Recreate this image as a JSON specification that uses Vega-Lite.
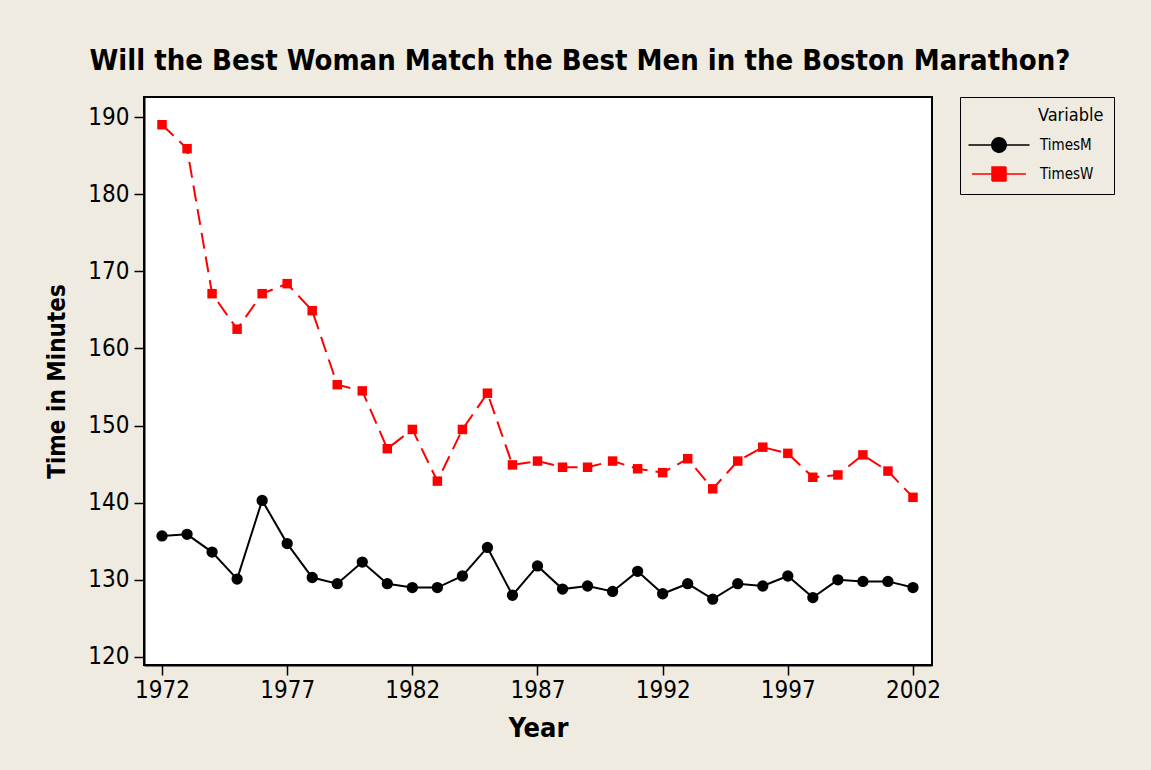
{
  "$schema": "https://vega.github.io/schema/vega-lite/v6.json",
  "width": 788,
  "height": 568,
  "autosize": {"type": "none"},
  "padding": {"left": 144, "top": 97, "right": 219, "bottom": 105},
  "background": "#EFEBE1",
  "title": {
    "text": "Will the Best Woman Match the Best Men in the Boston Marathon?",
    "font": "DejaVu Sans Condensed, DejaVu Sans",
    "fontSize": 29,
    "fontWeight": "bold",
    "color": "black",
    "anchor": "middle",
    "dx": 42,
    "offset": 21
  },
  "config": {
    "view": {"fill": "white", "stroke": "black", "strokeWidth": 2},
    "axis": {
      "labelFont": "DejaVu Sans Condensed, DejaVu Sans",
      "labelFontSize": 24,
      "labelColor": "black",
      "titleFont": "DejaVu Sans Condensed, DejaVu Sans",
      "titleColor": "black",
      "titleFontWeight": "bold",
      "tickColor": "black",
      "tickWidth": 1.5,
      "tickSize": 10,
      "domainColor": "black",
      "domainWidth": 2,
      "grid": false
    }
  },
  "data": {
    "values": [
      {"Year": 1972, "Variable": "TimesM", "Time": 135.7},
      {"Year": 1973, "Variable": "TimesM", "Time": 135.9},
      {"Year": 1974, "Variable": "TimesM", "Time": 133.6},
      {"Year": 1975, "Variable": "TimesM", "Time": 130.1},
      {"Year": 1976, "Variable": "TimesM", "Time": 140.3},
      {"Year": 1977, "Variable": "TimesM", "Time": 134.7},
      {"Year": 1978, "Variable": "TimesM", "Time": 130.3},
      {"Year": 1979, "Variable": "TimesM", "Time": 129.5},
      {"Year": 1980, "Variable": "TimesM", "Time": 132.3},
      {"Year": 1981, "Variable": "TimesM", "Time": 129.5},
      {"Year": 1982, "Variable": "TimesM", "Time": 129.0},
      {"Year": 1983, "Variable": "TimesM", "Time": 129.0},
      {"Year": 1984, "Variable": "TimesM", "Time": 130.5},
      {"Year": 1985, "Variable": "TimesM", "Time": 134.2},
      {"Year": 1986, "Variable": "TimesM", "Time": 128.0},
      {"Year": 1987, "Variable": "TimesM", "Time": 131.8},
      {"Year": 1988, "Variable": "TimesM", "Time": 128.8},
      {"Year": 1989, "Variable": "TimesM", "Time": 129.2},
      {"Year": 1990, "Variable": "TimesM", "Time": 128.5},
      {"Year": 1991, "Variable": "TimesM", "Time": 131.1},
      {"Year": 1992, "Variable": "TimesM", "Time": 128.2},
      {"Year": 1993, "Variable": "TimesM", "Time": 129.5},
      {"Year": 1994, "Variable": "TimesM", "Time": 127.5},
      {"Year": 1995, "Variable": "TimesM", "Time": 129.5},
      {"Year": 1996, "Variable": "TimesM", "Time": 129.2},
      {"Year": 1997, "Variable": "TimesM", "Time": 130.5},
      {"Year": 1998, "Variable": "TimesM", "Time": 127.7},
      {"Year": 1999, "Variable": "TimesM", "Time": 130.0},
      {"Year": 2000, "Variable": "TimesM", "Time": 129.8},
      {"Year": 2001, "Variable": "TimesM", "Time": 129.8},
      {"Year": 2002, "Variable": "TimesM", "Time": 129.0},
      {"Year": 1972, "Variable": "TimesW", "Time": 189.0},
      {"Year": 1973, "Variable": "TimesW", "Time": 185.9},
      {"Year": 1974, "Variable": "TimesW", "Time": 167.1},
      {"Year": 1975, "Variable": "TimesW", "Time": 162.5},
      {"Year": 1976, "Variable": "TimesW", "Time": 167.1},
      {"Year": 1977, "Variable": "TimesW", "Time": 168.4},
      {"Year": 1978, "Variable": "TimesW", "Time": 164.9},
      {"Year": 1979, "Variable": "TimesW", "Time": 155.3},
      {"Year": 1980, "Variable": "TimesW", "Time": 154.5},
      {"Year": 1981, "Variable": "TimesW", "Time": 147.0},
      {"Year": 1982, "Variable": "TimesW", "Time": 149.5},
      {"Year": 1983, "Variable": "TimesW", "Time": 142.8},
      {"Year": 1984, "Variable": "TimesW", "Time": 149.5},
      {"Year": 1985, "Variable": "TimesW", "Time": 154.2},
      {"Year": 1986, "Variable": "TimesW", "Time": 144.9},
      {"Year": 1987, "Variable": "TimesW", "Time": 145.4},
      {"Year": 1988, "Variable": "TimesW", "Time": 144.6},
      {"Year": 1989, "Variable": "TimesW", "Time": 144.6},
      {"Year": 1990, "Variable": "TimesW", "Time": 145.4},
      {"Year": 1991, "Variable": "TimesW", "Time": 144.4},
      {"Year": 1992, "Variable": "TimesW", "Time": 143.9},
      {"Year": 1993, "Variable": "TimesW", "Time": 145.7},
      {"Year": 1994, "Variable": "TimesW", "Time": 141.8},
      {"Year": 1995, "Variable": "TimesW", "Time": 145.4},
      {"Year": 1996, "Variable": "TimesW", "Time": 147.2},
      {"Year": 1997, "Variable": "TimesW", "Time": 146.4},
      {"Year": 1998, "Variable": "TimesW", "Time": 143.3},
      {"Year": 1999, "Variable": "TimesW", "Time": 143.6},
      {"Year": 2000, "Variable": "TimesW", "Time": 146.2},
      {"Year": 2001, "Variable": "TimesW", "Time": 144.1},
      {"Year": 2002, "Variable": "TimesW", "Time": 140.7}
    ]
  },
  "encoding": {
    "x": {
      "field": "Year",
      "type": "quantitative",
      "scale": {"domain": [1971.28, 2002.76], "nice": false, "zero": false},
      "axis": {
        "values": [1972, 1977, 1982, 1987, 1992, 1997, 2002],
        "format": "d",
        "title": "Year",
        "titleFontSize": 27,
        "labelPadding": 3,
        "titlePadding": 13
      }
    },
    "y": {
      "field": "Time",
      "type": "quantitative",
      "scale": {"domain": [118.96, 192.6], "nice": false, "zero": false},
      "axis": {
        "values": [120, 130, 140, 150, 160, 170, 180, 190],
        "title": "Time in Minutes",
        "titleFontSize": 24,
        "labelPadding": 5,
        "titlePadding": 18
      }
    },
    "color": {
      "field": "Variable",
      "type": "nominal",
      "scale": {"domain": ["TimesM", "TimesW"], "range": ["black", "#FF0000"]},
      "legend": {
        "orient": "none",
        "legendX": 816,
        "legendY": 0,
        "title": "Variable\u00a0\u00a0\u00a0",
        "titleFont": "DejaVu Sans Condensed, DejaVu Sans",
        "titleFontSize": 18,
        "titleFontWeight": "normal",
        "titleColor": "black",
        "titleAnchor": "start",
        "titlePadding": 9,
        "labelFont": "DejaVu Sans Condensed, DejaVu Sans",
        "labelFontSize": 15,
        "labelColor": "black",
        "labelOffset": 30,
        "symbolSize": 400,
        "symbolOffset": 18,
        "symbolStrokeWidth": 1.5,
        "symbolDash": [1, 0],
        "rowPadding": 7,
        "padding": 10,
        "strokeColor": "black",
        "encode": {
          "title": {
            "update": {"dx": {"value": 68}}
          },
          "symbols": {
            "update": {
              "shape": [
                {"test": "datum.value === 'TimesM'", "value": "M-3.05,0H3.05M0.72,0A0.72,0.72,0,1,1,-0.72,0A0.72,0.72,0,1,1,0.72,0Z"},
                {"value": "M-2.7,0H2.7M-0.7,-0.7H0.7V0.7H-0.7Z"}
              ],
              "fill": [
                {"test": "datum.value === 'TimesM'", "value": "black"},
                {"value": "#FF0000"}
              ],
              "stroke": [
                {"test": "datum.value === 'TimesM'", "value": "black"},
                {"value": "#FF0000"}
              ],
              "strokeDash": {"value": [1, 0]},
              "opacity": {"value": 1}
            }
          }
        }
      }
    }
  },
  "layer": [
    {
      "transform": [{"filter": "datum.Variable === 'TimesM'"}],
      "mark": {"type": "line", "strokeWidth": 2}
    },
    {
      "transform": [{"filter": "datum.Variable === 'TimesW'"}],
      "mark": {"type": "line", "strokeWidth": 2, "strokeDash": [16, 8]}
    },
    {
      "transform": [{"filter": "datum.Variable === 'TimesM'"}],
      "mark": {"type": "point", "shape": "circle", "size": 128, "filled": true, "opacity": 1}
    },
    {
      "transform": [{"filter": "datum.Variable === 'TimesW'"}],
      "mark": {"type": "point", "shape": "square", "size": 90, "filled": true, "opacity": 1}
    }
  ]
}
